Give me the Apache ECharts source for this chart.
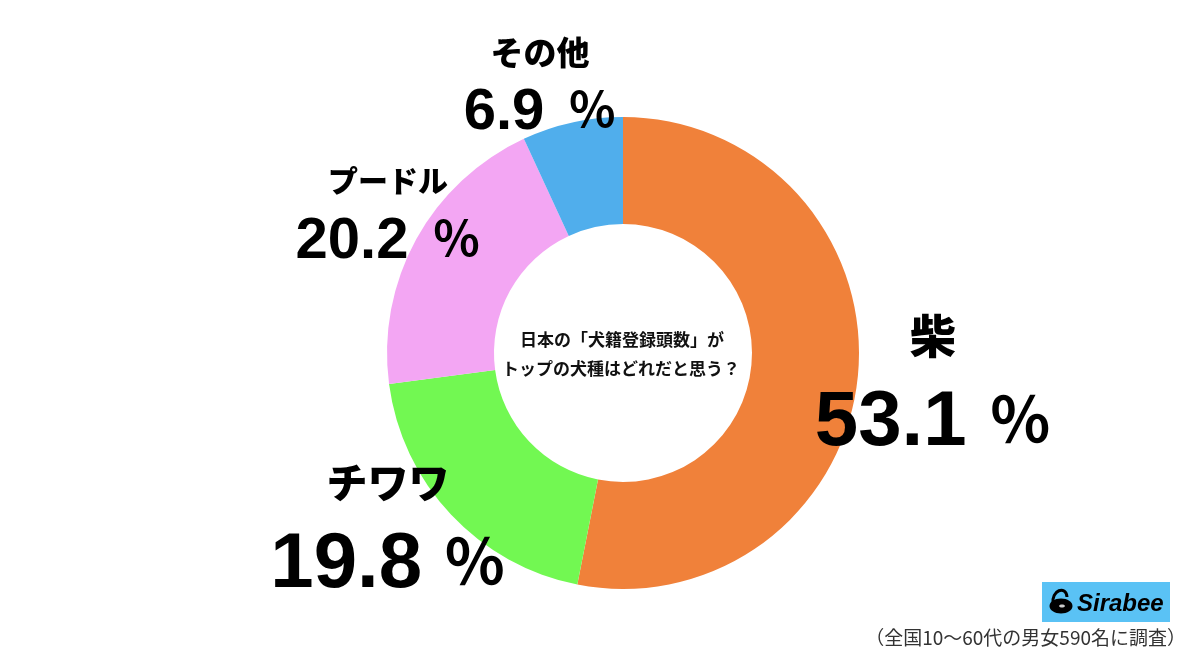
<!DOCTYPE html>
<html>
<head>
<meta charset="utf-8">
<style>
  html, body { margin: 0; padding: 0; background: #fff; }
  #chart { width: 1200px; height: 656px; }
</style>
<script src="https://cdn.jsdelivr.net/npm/echarts@6/dist/echarts.min.js"></script>
</head>
<body>
<div id="chart"></div>
<script>
  const breeds = ['柴', 'チワワ', 'プードル', 'その他'];
  const shares = [53.1, 19.8, 20.2, 6.9];
  const colors = ['#F0813A', '#72F852', '#F3A6F3', '#50AEEC'];
  const questionLines = ['日本の「犬籍登録頭数」が', 'トップの犬種はどれだと思う？'];
  const footnote = '（全国10〜60代の男女590名に調査）';

  // label placement per slice: centre x, centre y, name size, value size
  const labelSpots = [
    { x: 933, y: 382, name: 46, value: 78, pct: 62, gap: 92, pad: 1 },
    { x: 388, y: 526, name: 41, value: 78, pct: 62, gap: 88, pad: 0 },
    { x: 388, y: 214, name: 30, value: 58, pct: 48, gap: 66, pad: 8 },
    { x: 540, y: 85, name: 33, value: 58, pct: 48, gap: 66, pad: 8 }
  ];
  const jpFont = '"Noto Sans CJK JP", sans-serif';
  const numFont = '"Liberation Sans", Arial, sans-serif';

  const chart = echarts.init(document.getElementById('chart'), null, { renderer: 'canvas' });

  const pieData = breeds.map((name, i) => {
    const s = labelSpots[i];
    return {
      name: name,
      value: shares[i],
      itemStyle: { color: colors[i] },
      label: {
        formatter: '{n|' + name + '}\n{v|' + shares[i].toFixed(1) + ' }{p|％}',
        rich: {
          n: { fontFamily: jpFont, fontWeight: 900, fontSize: s.name, color: '#000', lineHeight: s.gap - 10, align: 'center' },
          v: { fontFamily: numFont, fontWeight: 'bold', fontSize: s.value, color: '#000', lineHeight: s.gap, align: 'center' },
          p: { fontFamily: jpFont, fontWeight: 700, fontSize: s.pct, color: '#000', lineHeight: s.gap, align: 'center', padding: [0, 0, 8, s.pad] }
        }
      }
    };
  });

  chart.setOption({
    animation: false,
    backgroundColor: '#fff',
    series: [{
      type: 'pie',
      center: [623, 353],
      radius: [129, 236],
      startAngle: 90,
      clockwise: true,
      silent: true,
      data: pieData,
      label: { show: true, position: 'outside' },
      labelLine: { show: false },
      labelLayout: (params) => {
        const s = labelSpots[params.dataIndex];
        return { x: s.x, y: s.y, align: 'center', verticalAlign: 'middle' };
      }
    }],
    graphic: [
      {
        type: 'text', x: 622, y: 340, silent: true,
        style: { text: questionLines[0], align: 'center', verticalAlign: 'middle', font: '700 17px ' + jpFont, fill: '#111' }
      },
      {
        type: 'text', x: 621, y: 369, silent: true,
        style: { text: questionLines[1], align: 'center', verticalAlign: 'middle', font: '700 17px ' + jpFont, fill: '#111' }
      },
      { type: 'rect', silent: true, shape: { x: 1042, y: 582, width: 128, height: 40 }, style: { fill: '#5AC2F5' } },
      { type: 'ellipse', silent: true, shape: { cx: 1061, cy: 606, rx: 11.5, ry: 7.5 }, style: { fill: '#000' } },
      {
        type: 'bezierCurve', silent: true,
        shape: { x1: 1053, y1: 604, cpx1: 1051, cpy1: 590, cpx2: 1066, cpy2: 585, x2: 1067, y2: 597 },
        style: { fill: 'none', stroke: '#000', lineWidth: 3 }
      },
      { type: 'ellipse', silent: true, shape: { cx: 1062, cy: 606, rx: 3, ry: 1.5 }, style: { fill: '#ccc' } },
      {
        type: 'text', x: 1077, y: 604, silent: true,
        style: { text: 'Sirabee', align: 'left', verticalAlign: 'middle', font: 'italic 700 24px ' + numFont, fill: '#000' }
      },
      {
        type: 'text', x: 1186, y: 638, silent: true,
        style: { text: footnote, align: 'right', verticalAlign: 'middle', font: '400 19px ' + jpFont, fill: '#333' }
      }
    ]
  });
</script>
</body>
</html>
